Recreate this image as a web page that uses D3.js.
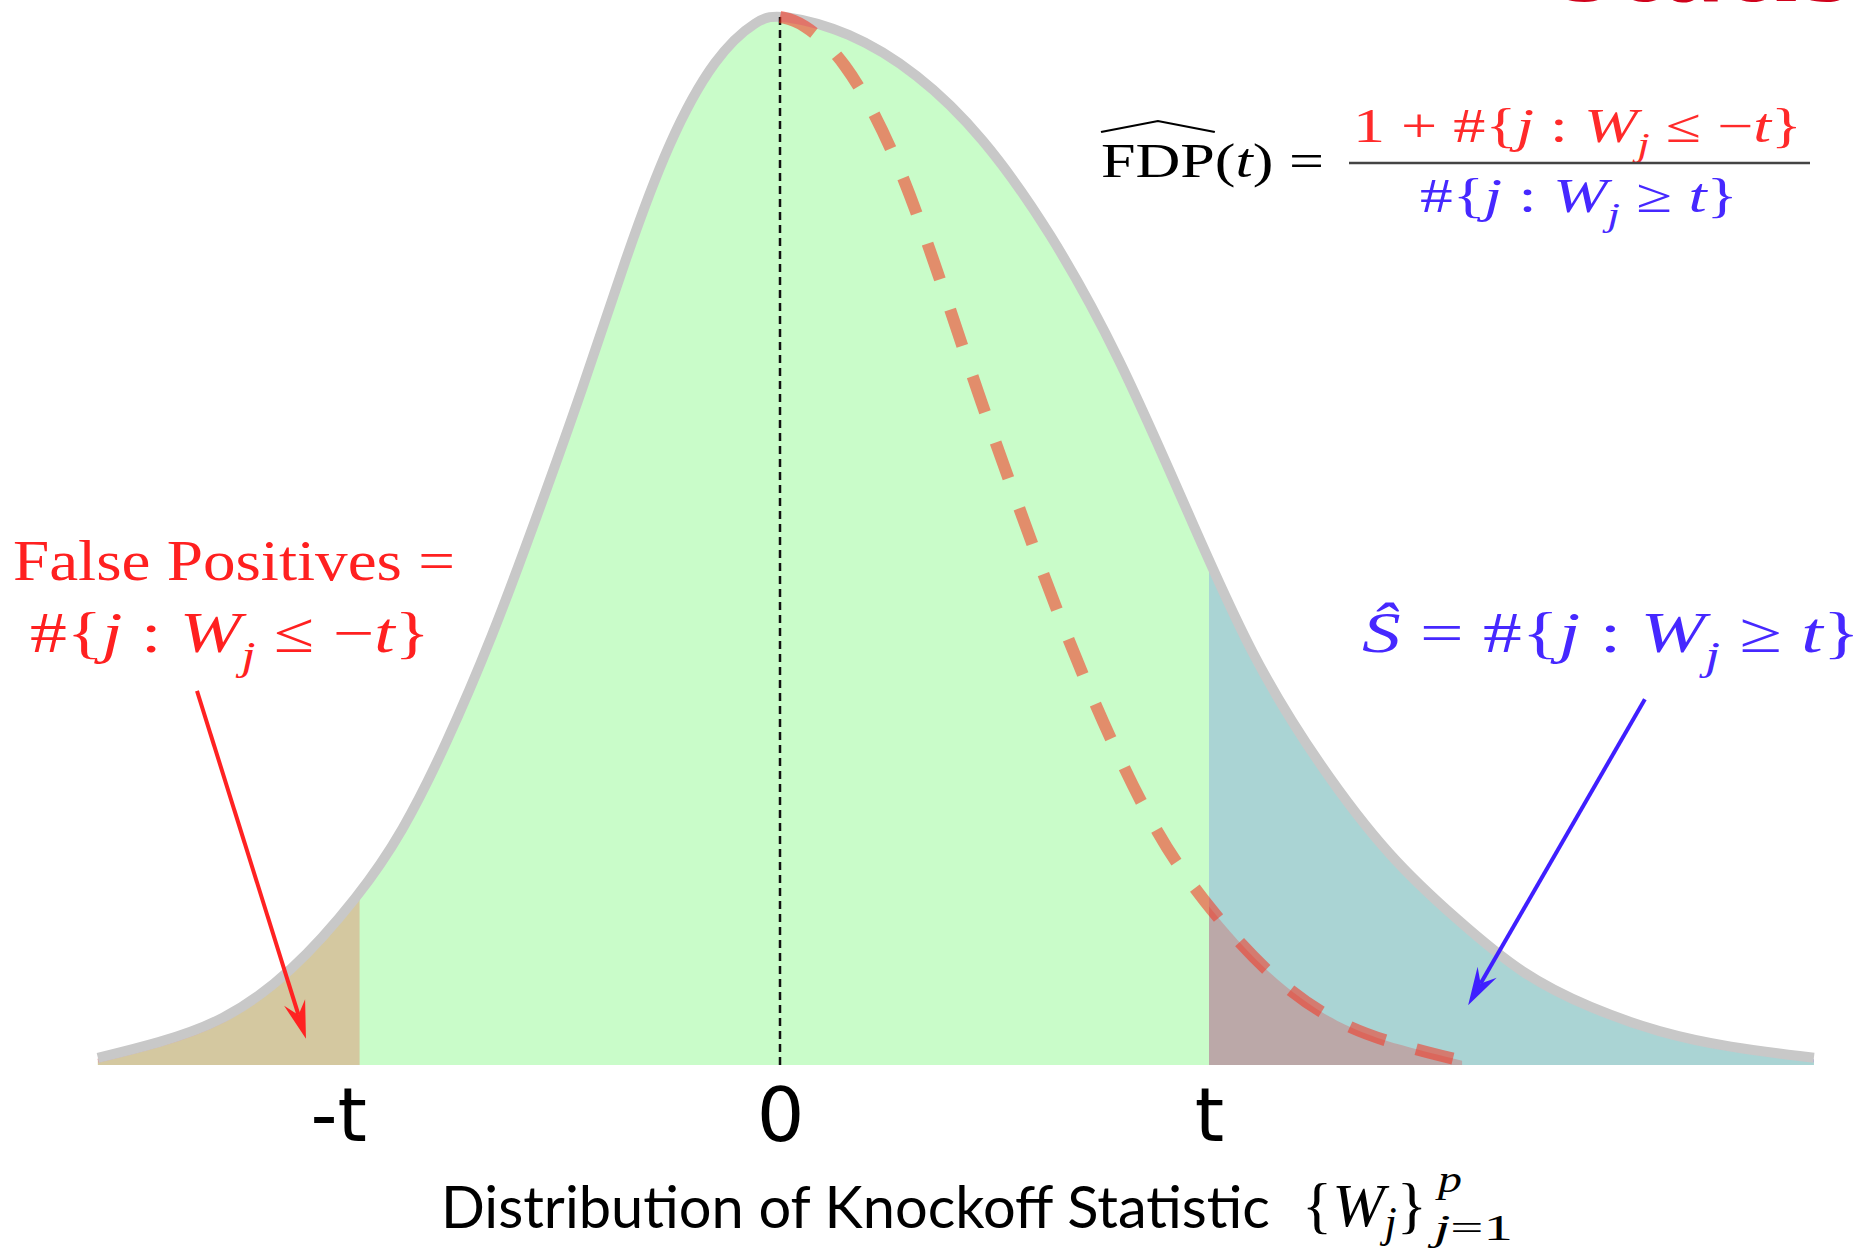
<!DOCTYPE html>
<html>
<head>
<meta charset="utf-8">
<script src="https://cdn.jsdelivr.net/npm/d3@7"></script>
<style>
  html, body { margin: 0; padding: 0; background: #fff; overflow: hidden; }
  text { white-space: pre; }
</style>
</head>
<body>
<svg id="chart" width="1869" height="1253"></svg>
<script>
const W = 1869, H = 1253;

// Knockoff statistic W (in units of the threshold t) and density height (peak = 1)
const wGrid = [-1.59, -1.45, -1.30, -1.14, -0.98, -0.88, -0.78, -0.67, -0.57, -0.46,
               -0.36, -0.26, -0.15, -0.05, 0, 0.16, 0.32, 0.47, 0.63, 0.79,
               0.95, 1.10, 1.26, 1.42, 1.58, 1.73, 1.89, 2.05, 2.21, 2.41];
const density = [0.004, 0.018, 0.038, 0.084, 0.159, 0.219, 0.301, 0.406, 0.517, 0.642,
                 0.767, 0.879, 0.961, 0.996, 1.000, 0.984, 0.944, 0.885, 0.793, 0.675,
                 0.525, 0.385, 0.281, 0.195, 0.135, 0.083, 0.051, 0.028, 0.014, 0.004];

// Symmetric null half (dashed), mirrored onto the positive side
const nullGrid = [0, 0.05, 0.15, 0.26, 0.36, 0.46, 0.57, 0.67, 0.78, 0.88, 0.98, 1.14, 1.30, 1.45, 1.59];
const nullDensity = [1.000, 0.996, 0.961, 0.879, 0.767, 0.642, 0.517, 0.406, 0.301, 0.219, 0.159, 0.084, 0.038, 0.018, 0.004];

// Thresholds and axis ticks
const threshold = 1.0;
const negThreshold = -0.98;
const tickValues = [-1.03, 0, 1];
const tickLabels = ["-t", "0", "t"];

const svg = d3.select("#chart");
const x = d3.scaleLinear().domain([0, 1]).range([780, 1209]);
const y = d3.scaleLinear().domain([0, 1]).range([1065, 17]);

const pts = wGrid.map((w, i) => [w, density[i]]);
const nullPts = nullGrid.map((w, i) => [w, nullDensity[i]]);

const curve = d3.curveBasis;
const area = d3.area().x(d => x(d[0])).y0(y(0)).y1(d => y(d[1])).curve(curve);
const line = d3.line().x(d => x(d[0])).y(d => y(d[1])).curve(curve);

const defs = svg.append("defs");
defs.append("clipPath").attr("id", "clipRight").append("rect")
  .attr("x", x(threshold)).attr("y", 0).attr("width", W - x(threshold)).attr("height", H);
defs.append("clipPath").attr("id", "clipLeft").append("rect")
  .attr("x", 0).attr("y", 0).attr("width", x(negThreshold)).attr("height", H);

// Slide title peeking in at the top edge
svg.append("text")
  .attr("x", 1558).attr("y", 1)
  .attr("font-family", "'Open Sans', 'DejaVu Sans', sans-serif")
  .attr("font-weight", 800).attr("font-size", 100)
  .attr("fill", "#d0021b")
  .text("Statistics");

// Full density
svg.append("path").datum(pts).attr("d", area).attr("fill", "#c9fcc9");

// Selected set: W >= t
svg.append("path").datum(pts).attr("d", area)
  .attr("fill", "#aad4d4").attr("clip-path", "url(#clipRight)");
svg.append("path").datum(pts).attr("d", line)
  .attr("fill", "none").attr("stroke", "#a9a2dd").attr("stroke-width", 3)
  .attr("clip-path", "url(#clipRight)");

// Null mass above t
svg.append("path").datum(nullPts).attr("d", area)
  .attr("fill", "#bba8a8").attr("clip-path", "url(#clipRight)");

// False positives: W <= -t
svg.append("path").datum(pts).attr("d", area)
  .attr("fill", "#d4c8a0").attr("clip-path", "url(#clipLeft)");
svg.append("path").datum(pts).attr("d", line)
  .attr("fill", "none").attr("stroke", "#dba3a3").attr("stroke-width", 4)
  .attr("clip-path", "url(#clipLeft)");

// Density outline
svg.append("path").datum(pts).attr("d", line)
  .attr("fill", "none").attr("stroke", "#c8c8c8").attr("stroke-width", 10)
  .attr("transform", "translate(0,-3)");

// Centre line at 0
svg.append("line")
  .attr("x1", x(0)).attr("x2", x(0)).attr("y1", y(1)).attr("y2", y(0))
  .attr("stroke", "#111").attr("stroke-width", 2.5).attr("stroke-dasharray", "8,5");

// Mirrored null (dashed)
svg.append("path").datum(nullPts).attr("d", line)
  .attr("fill", "none").attr("stroke", "rgba(245,50,30,0.55)")
  .attr("stroke-width", 12).attr("stroke-dasharray", "38,32");

// Axis with tick labels only
const axis = d3.axisBottom(x).tickValues(tickValues)
  .tickFormat((d, i) => tickLabels[i]).tickSize(0);
const gAxis = svg.append("g").attr("transform", `translate(0,${y(0)})`).call(axis);
gAxis.select(".domain").remove();
gAxis.selectAll("text")
  .attr("y", 76).attr("dy", 0)
  .attr("font-family", "'DejaVu Sans', sans-serif")
  .attr("font-size", 75).attr("fill", "#000");

// Arrows
function arrow(x1, y1, x2, y2, color) {
  const X1 = x(x1), Y1 = y(y1), X2 = x(x2), Y2 = y(y2);
  const dx = X2 - X1, dy = Y2 - Y1, L = Math.hypot(dx, dy);
  const ux = dx / L, uy = dy / L, nx = -uy, ny = ux;
  const headLen = 38, half = 11, notch = 25;
  svg.append("line")
    .attr("x1", X1).attr("y1", Y1)
    .attr("x2", X2 - ux * notch).attr("y2", Y2 - uy * notch)
    .attr("stroke", color).attr("stroke-width", 4);
  const p = [
    [X2, Y2],
    [X2 - ux * headLen + nx * half, Y2 - uy * headLen + ny * half],
    [X2 - ux * notch, Y2 - uy * notch],
    [X2 - ux * headLen - nx * half, Y2 - uy * headLen - ny * half]
  ];
  svg.append("path").attr("d", "M" + p.map(q => q.join(",")).join("L") + "Z").attr("fill", color);
}
arrow(-1.359, 0.357, -1.105, 0.025, "#ff2222");
arrow(2.016, 0.349, 1.604, 0.057, "#3f1fff");

// Math-style text helper: parts are [string, kind] with kind r (roman), i (italic), s (italic subscript)
const SERIF = "'Liberation Serif', 'DejaVu Serif', serif";
function mathText(px, py, width, size, color, parts, family, subShift) {
  const g = svg.append("g");
  const t = g.append("text")
    .attr("font-family", family || SERIF)
    .attr("font-size", size).attr("fill", color);
  const sub = subShift === undefined ? 0.3 : subShift;
  let shift = 0;
  const spans = [];
  parts.forEach(([s, k]) => {
    const ts = t.append("tspan").text(s);
    const target = k === "s" ? size * sub : 0;
    if (target !== shift) { ts.attr("dy", target - shift); shift = target; }
    if (k === "i" || k === "s") ts.attr("font-style", "italic");
    if (k === "s") ts.attr("font-size", size * 0.7);
    spans.push(ts);
  });
  const len = t.node().getComputedTextLength();
  const sx = width ? width / len : 1;
  g.attr("transform", `translate(${px},${py}) scale(${sx},1)`);
  return { g, t, spans, sx };
}

// False positives label
mathText(13, 580, 442, 57, "#ff2020", [["False Positives =", "r"]]);
mathText(30, 652, 400, 57, "#ff2020", [
  ["#{", "r"], ["j", "i"], [" : ", "r"], ["W", "i"], ["j", "s"], [" ≤ −", "r"], ["t", "i"], ["}", "r"]
]);

// Selected set label
mathText(1362, 652, 498, 57, "#4628ff", [
  ["Ŝ", "i"], [" = #{", "r"], ["j", "i"], [" : ", "r"], ["W", "i"], ["j", "s"], [" ≥ ", "r"], ["t", "i"], ["}", "r"]
]);

// FDP estimate
const fdp = mathText(1101, 177, 223, 49, "#000", [
  ["FDP", "r"], ["(", "r"], ["t", "i"], [") =", "r"]
]);
{
  const fl = fdp.spans[0].node().getComputedTextLength();
  const s = 49;
  fdp.g.append("path")
    .attr("d", `M0,${-0.92 * s} L${fl / 2},${-1.14 * s} L${fl},${-0.92 * s}`)
    .attr("fill", "none").attr("stroke", "#000").attr("stroke-width", 2);
}
mathText(1353, 142, 449, 48, "#ff2a2a", [
  ["1 + #{", "r"], ["j", "i"], [" : ", "r"], ["W", "i"], ["j", "s"], [" ≤ −", "r"], ["t", "i"], ["}", "r"]
]);
svg.append("line")
  .attr("x1", 1349).attr("x2", 1810).attr("y1", 163).attr("y2", 163)
  .attr("stroke", "#444").attr("stroke-width", 2.5);
mathText(1420, 212, 318, 48, "#4628ff", [
  ["#{", "r"], ["j", "i"], [" : ", "r"], ["W", "i"], ["j", "s"], [" ≥ ", "r"], ["t", "i"], ["}", "r"]
]);

// Axis title
mathText(441, 1228, 829, 58, "#000", [["Distribution of Knockoff Statistic", "r"]], "Lato, 'DejaVu Sans', sans-serif");
mathText(1302, 1226, 125, 62, "#000", [["{", "r"], ["W", "i"], ["j", "s"], ["}", "r"]], SERIF, 0.18);
mathText(1438, 1192, 24, 38, "#000", [["p", "i"]]);
mathText(1434, 1240, 79, 36, "#000", [["j", "i"], ["=1", "r"]]);
</script>
</body>
</html>
